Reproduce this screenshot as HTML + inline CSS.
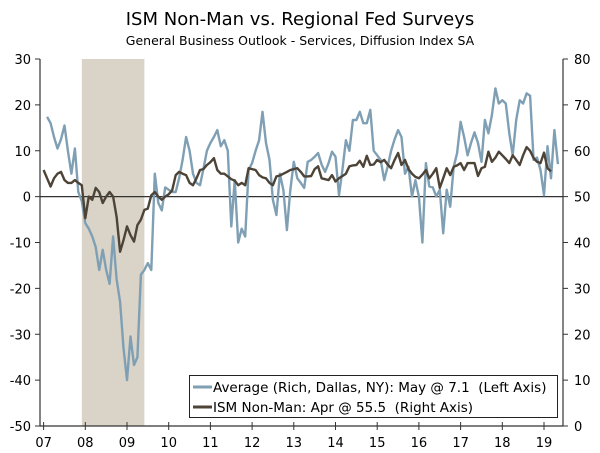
<!DOCTYPE html>
<html><head><meta charset="utf-8">
<style>
body{margin:0;background:#fff;}
svg{display:block;font-family:"DejaVu Sans","Liberation Sans",sans-serif;}
text{white-space:pre;}
</style></head>
<body>
<svg id="chart" width="600" height="453" viewBox="0 0 600 453">
<text x="300" y="25" text-anchor="middle" font-size="18" fill="#000">ISM Non-Man vs. Regional Fed Surveys</text>
<text x="300" y="45" text-anchor="middle" font-size="12.5" fill="#000">General Business Outlook - Services, Diffusion Index SA</text>
<g id="plot"></g>
</svg>
<script>
const yearLabels=["07","08","09","10","11","12","13","14","15","16","17","18","19"];
const leftTicks=[30,20,10,0,-10,-20,-30,-40,-50];
const rightTicks=[80,70,60,50,40,30,20,10,0];
const recession=[11,29]; // month index Dec07 .. Jun09
const avgStart=1; // Feb 2007
const avgValues=[17.4,16,13,10.5,12.5,15.5,10,5,10.5,1,-1,-5.8,
-7,-8.7,-11,-16,-11.6,-16,-19,-8.7,-18,-23,-33,-40,
-30.5,-36.7,-35,-17,-16,-14.5,-16,5,-1.4,-3,2,1.5,
1,1,4,8,13,10,5,3,2.5,6,10,11.7,
13,14.5,11,12.3,10,-6.5,3.6,-10,-7,-8.7,5.8,7.3,
10,12.3,18.5,11.7,8,-0.7,-4,5,1.4,-7.3,1.4,7.6,
4,3,1.9,7.6,8,8.7,9.5,7,5.4,7.3,9.8,8.7,
0.3,6,12.3,10,16.7,16.7,18.5,16,16,18.9,10,9,
8,3.6,6.5,10,12.5,14.5,13,5,6.5,0,3.6,0,
-10,7.3,2.2,2,0,1.5,-8,1.5,-2.2,6.5,9.5,16.3,
13,9,11.7,14,11.7,7.6,16.7,13.8,17.8,23.6,20.3,21,
20.3,13.8,9,16.7,21,20.3,22.5,22,8,8.5,5.8,0.3,
11,4,14.5,7.1];
const ismStart=0;
const ismValues=[55.8,54,52.2,54,55,55.4,53.6,53,53,53.6,53,52.5,
45.3,50,49.3,51.9,51,48.6,50,51,50,45.6,38,40.5,
43.5,41.6,40.2,43.8,45,47.1,47.4,50.3,51,50,49.3,50,
50.5,51.4,54.7,55.4,55,54.7,53,52.5,54,55.8,56,56.9,
57.5,58.4,55.8,55,55,54.4,53.8,53.5,52.5,53,52.5,56.2,
56,55.8,54.7,54.2,54,53,52.5,54.4,54.6,55,55.4,55.8,
56,56.2,55.4,54.4,54.4,54.5,56,56.6,54,53.8,53.6,54.7,
53.3,54,54.5,55,56.6,56.8,56.9,57.8,56.5,58.9,56.9,57,
58,57.5,58,57,56.2,58,59.5,56.9,58,56,55,54.3,
54,54.8,55.8,54,55,56.2,51.9,54,56.2,54.7,56.5,56.8,
57.3,55.8,57.3,57.3,57.3,54.5,56.2,56.5,59.8,57.6,58.5,59.8,
59,58.2,57.3,59,58,56.9,59,60.8,60,58.4,57.6,57.3,
59.6,56.2,55.5];

const NS='http://www.w3.org/2000/svg';
const g=document.getElementById('plot');
const X0=43.6, MW=41.7/12, PL=40, PR=563, PT=59, PB=426;
function xM(m){return X0+m*MW;}
function yL(v){return PT+(30-v)*(PB-PT)/80;}
function yR(v){return PT+(80-v)*(PB-PT)/80;}
function mk(tag,attrs){const e=document.createElementNS(NS,tag);for(const k in attrs)e.setAttribute(k,attrs[k]);g.appendChild(e);return e;}

const rec=mk('rect',{x:xM(recession[0]),y:PT,width:xM(recession[1])-xM(recession[0]),height:PB-PT,fill:'#d9d4c7'});



const z=mk('line',{x1:PL,x2:PR,y1:yL(0),y2:yL(0),stroke:'#333',"stroke-width":1.3});



const la=mk('line',{x1:PL,x2:PL,y1:PT,y2:PB,stroke:'#333',"stroke-width":1.2});


const ra=mk('line',{x1:PR,x2:PR,y1:PT,y2:PB,stroke:'#333',"stroke-width":1.2});


const ba=mk('line',{x1:PL,x2:PR,y1:PB,y2:PB,stroke:'#333',"stroke-width":1.2});



leftTicks.forEach(v=>{
  const y=yL(v);
  const t=mk('line',{x1:PL-5,x2:PL,y1:y,y2:y,stroke:'#333'});
  
  
  const l=mk('text',{x:PL-9,y:y+5,"text-anchor":"end","font-size":13,fill:'#000'});
  l.textContent=v;
  
  
});
rightTicks.forEach(v=>{
  const y=yR(v);
  const t=mk('line',{x1:PR,x2:PR+5,y1:y,y2:y,stroke:'#333'});
  
  
  const l=mk('text',{x:PR+11,y:y+5,"text-anchor":"start","font-size":13,fill:'#000'});
  l.textContent=v;
  
  
});
yearLabels.forEach((s,i)=>{
  const x=xM(i*12);
  const t=mk('line',{x1:x,x2:x,y1:PB-4,y2:PB+4,stroke:'#333'});
  
  
  const l=mk('text',{x:x,y:447,"text-anchor":"middle","font-size":13,fill:'#000'});
  l.textContent=s;
  
  
});

function path(vals,start,yf){return vals.map((v,i)=>(i?'L':'M')+xM(start+i).toFixed(1)+','+yf(v).toFixed(1)).join('');}
const avg=mk('path',{d:path(avgValues,avgStart,yL),fill:'none',stroke:'#7f9fb4',"stroke-width":2.4,"stroke-linejoin":"round"});


const ism=mk('path',{d:path(ismValues,ismStart,yR),fill:'none',stroke:'#4d4337',"stroke-width":2.4,"stroke-linejoin":"round"});



const lb=mk('rect',{x:189.5,y:375.5,width:368,height:42,fill:'#fff',stroke:'#222',"stroke-width":1});


const l1=mk('line',{x1:193,x2:212,y1:387,y2:387,stroke:'#7f9fb4',"stroke-width":3});


const t1=mk('text',{x:213,y:392,"font-size":13.5,fill:'#000'});
t1.textContent='Average (Rich, Dallas, NY): May @ 7.1  (Left Axis)';


const l2=mk('line',{x1:193,x2:212,y1:407,y2:407,stroke:'#4d4337',"stroke-width":3});


const t2=mk('text',{x:213,y:412,"font-size":13.5,fill:'#000'});
t2.textContent='ISM Non-Man: Apr @ 55.5  (Right Axis)';


</script>
</body></html>
